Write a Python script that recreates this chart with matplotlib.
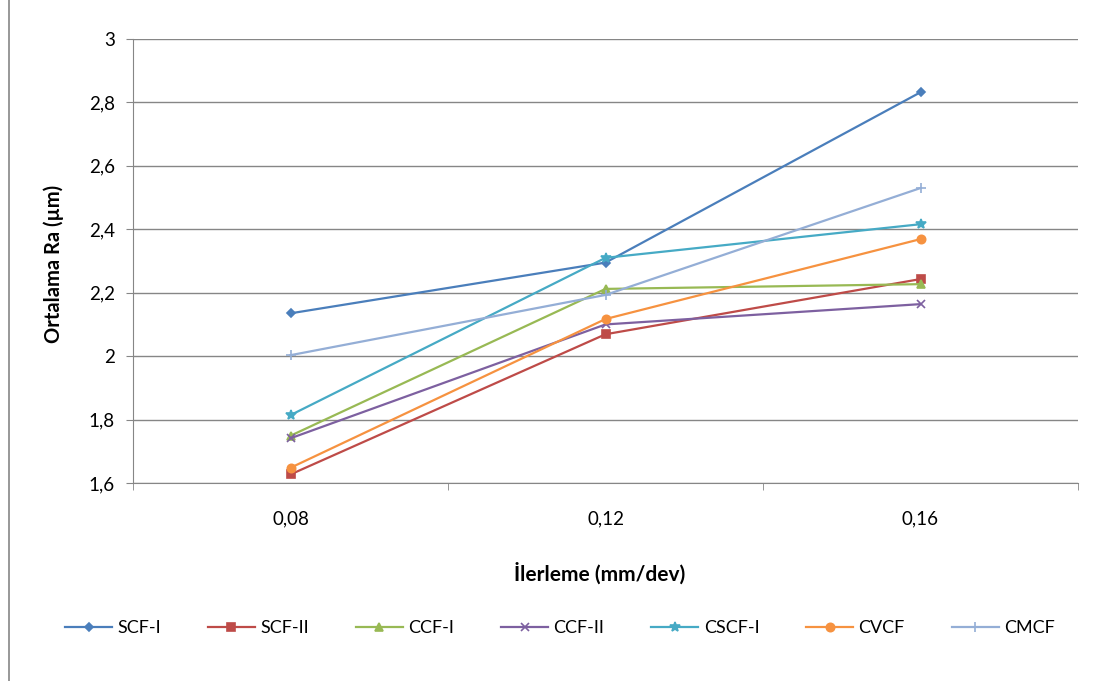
import numpy as np
import matplotlib
matplotlib.use('Agg')
import matplotlib.pyplot as plt
from matplotlib.lines import Line2D

plt.rcParams['font.family'] = ['Lato', 'DejaVu Sans']

feeds = ['0,08', '0,12', '0,16']
scf_1 = [2.135, 2.295, 2.832]
scf_2 = [1.627, 2.069, 2.243]
ccf_1 = [1.749, 2.212, 2.227]
ccf_2 = [1.741, 2.100, 2.164]
cscf_1 = [1.814, 2.310, 2.416]
cvcf = [1.648, 2.117, 2.369]
cmcf = [2.003, 2.193, 2.530]

names = ['SCF-I', 'SCF-II', 'CCF-I', 'CCF-II', 'CSCF-I', 'CVCF', 'CMCF']
series = [scf_1, scf_2, ccf_1, ccf_2, cscf_1, cvcf, cmcf]
colors = ['#4A7EBB', '#BE4B48', '#98B954', '#7D60A0', '#46AAC5', '#F69240', '#94AED6']
markers = ['D', 's', '^', 'x', '*', 'o', '+']
msizes = [4, 6, 6, 6, 7, 6, 7]

fig = plt.figure(figsize=(10.98, 6.81), dpi=100)
ax = fig.add_axes([133/1098, 1-483/681, (1078-133)/1098, (483-39)/681])

x = np.arange(len(feeds))
for name, vals, c, m, ms in zip(names, series, colors, markers, msizes):
    ax.plot(x, vals, color=c, lw=1.6, marker=m, ms=ms, mew=1.2,
            mfc=c, mec=c, label=name)

ax.set_xlim(-0.5, 2.5)
ax.set_ylim(1.6, 3.0)
yt = np.arange(1.6, 3.01, 0.2)
ax.set_yticks(yt)
ax.set_yticklabels([('%.1f' % v).rstrip('0').rstrip('.').replace('.', ',') for v in yt])
ax.set_xticks(x)
ax.set_xticklabels(feeds)
ax.set_xticks([-0.5, 0.5, 1.5, 2.5], minor=True)
ax.tick_params(axis='x', which='major', length=0, pad=20, labelsize=13.5)
ax.tick_params(axis='x', which='minor', length=5, color='#868686', direction='out')
ax.tick_params(axis='y', length=5, color='#868686', labelsize=13.5, pad=8)
ax.yaxis.grid(True, color='#868686', lw=1)
ax.set_axisbelow(True)
for s in ['top', 'right']:
    ax.spines[s].set_visible(False)
for s in ['left', 'bottom']:
    ax.spines[s].set_color('#868686')

fig.text(54/1098, 1-264/681, 'Ortalama Ra (µm)', rotation=90, ha='center', va='center',
         fontsize=14.5, fontweight='bold')
fig.text(600/1098, 1-573/681, 'İlerleme (mm/dev)', ha='center', va='center',
         fontsize=15, fontweight='bold')

fig.legend(loc='center', bbox_to_anchor=(560/1098, 1-628/681), ncol=7, frameon=False,
           fontsize=13, handlelength=2.6, columnspacing=2.6, handletextpad=0.3)

fig.add_artist(Line2D([9/1098, 9/1098], [0, 1], color='#868686', lw=1.2,
                      transform=fig.transFigure))

fig.savefig('out.png', dpi=100)
